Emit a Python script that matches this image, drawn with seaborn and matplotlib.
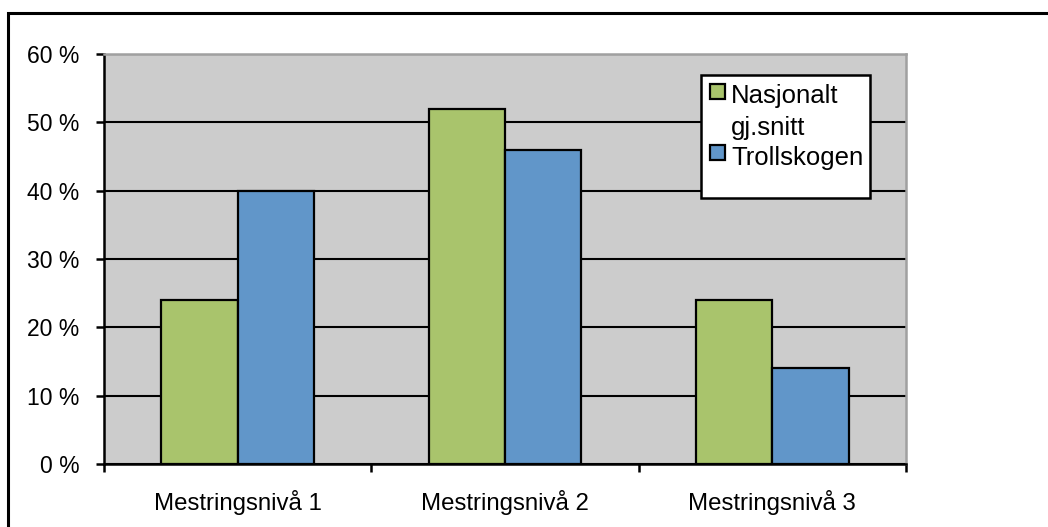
import matplotlib
matplotlib.use("Agg")
import matplotlib.pyplot as plt
from matplotlib.patches import Rectangle
from matplotlib.ticker import FixedLocator, FuncFormatter
import seaborn as sns
import pandas as pd

categories = ["Mestringsnivå 1", "Mestringsnivå 2", "Mestringsnivå 3"]
series_names = ["Nasjonalt gj.snitt", "Trollskogen"]
legend_lines = [["Nasjonalt", "gj.snitt"], ["Trollskogen"]]
nasjonalt = [24, 52, 24]
trollskogen = [40, 46, 14]
y_ticks = [0, 10, 20, 30, 40, 50, 60]
colors = ["#a9c46c", "#6196c9"]

df = pd.DataFrame({
    "kategori": categories * 2,
    "serie": [series_names[0]] * 3 + [series_names[1]] * 3,
    "verdi": nasjonalt + trollskogen,
})

sns.set_style("white")
plt.rcParams["font.family"] = ["Liberation Sans", "DejaVu Sans"]
plt.rcParams["text.color"] = "black"
plt.rcParams["xtick.color"] = "black"
plt.rcParams["ytick.color"] = "black"
plt.rcParams["xtick.labelcolor"] = "black"
plt.rcParams["ytick.labelcolor"] = "black"

W, H = 1048, 527
fig = plt.figure(figsize=(W / 100, H / 100), dpi=100)
ax = fig.add_axes([104 / W, 1 - 464 / H, 802 / W, 410 / H])
ax.set_facecolor("#cccccc")

sns.barplot(data=df, x="kategori", y="verdi", hue="serie",
            palette=colors, width=0.57, gap=0,
            edgecolor="black", linewidth=1.6, saturation=1,
            ax=ax, legend=False, zorder=3)

ax.set_xlim(-0.5, 2.5)
ax.set_ylim(0, 60)
ax.set_yticks(y_ticks)
ax.yaxis.set_major_formatter(FuncFormatter(lambda v, p: f"{v:.0f} %"))
ax.grid(axis="y", color="black", linewidth=1.5, zorder=1)
ax.set_axisbelow(True)
ax.set_xlabel("")
ax.set_ylabel("")

# category boundary ticks on the x axis
ax.xaxis.set_minor_locator(FixedLocator([-0.5, 0.5, 1.5, 2.5]))
ax.tick_params(axis="x", which="major", length=0, pad=19, labelsize=17.3,
               labelcolor="black")
ax.tick_params(axis="x", which="minor", length=5.5, width=1.8, color="black",
               direction="out", bottom=True)
ax.tick_params(axis="y", which="major", length=5.5, width=1.8, color="black",
               direction="out", left=True, pad=12, labelsize=16.5,
               labelcolor="black")

for side in ["left", "bottom"]:
    ax.spines[side].set_color("black")
    ax.spines[side].set_linewidth(1.8)
for side in ["top", "right"]:
    ax.spines[side].set_color("#a0a0a0")
    ax.spines[side].set_linewidth(1.8)


def fx(px):
    return px / W


def fy(py):
    return 1 - py / H


# legend box with its entries (figure pixel positions)
fig.add_artist(Rectangle((fx(701), fy(198)), fx(870) - fx(701), fy(75) - fy(198),
                         transform=fig.transFigure, facecolor="white",
                         edgecolor="black", linewidth=1.8, zorder=5))
handle_tops = [84, 145]
line_baselines = [[103.5, 135.5], [164.5]]
for color, top, lines, bases in zip(colors, handle_tops, legend_lines, line_baselines):
    fig.add_artist(Rectangle((fx(709.5), fy(top + 15)), fx(15), 15 / H,
                             transform=fig.transFigure, facecolor=color,
                             edgecolor="black", linewidth=1.6, zorder=6))
    for line, base in zip(lines, bases):
        fig.text(fx(731), fy(base), line, fontsize=18.5, va="baseline",
                 ha="left", color="black", zorder=7)

# outer chart border
fig.add_artist(Rectangle((8 / W, -0.05), 1.1, 1 - 12.5 / H + 0.05,
                         transform=fig.transFigure, facecolor="none",
                         edgecolor="black", linewidth=2.2))

fig.savefig("out.png", dpi=100)
